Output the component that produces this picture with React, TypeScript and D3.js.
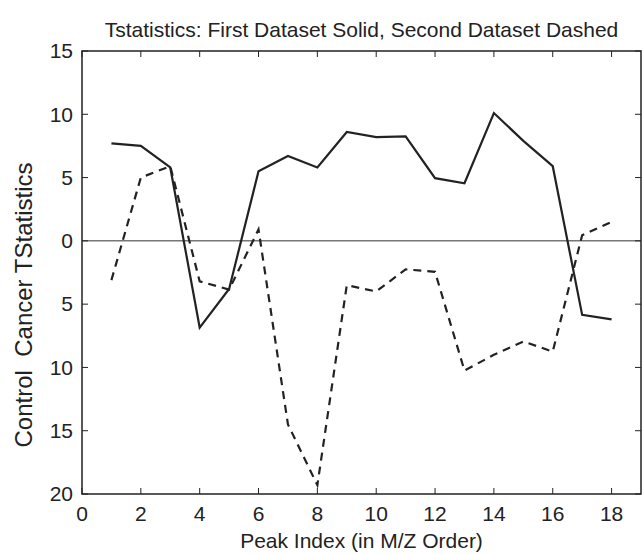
import React from "react";
import * as d3 from "d3";

// peak index 1..18
const peaks = [1, 2, 3, 4, 5, 6, 7, 8, 9, 10, 11, 12, 13, 14, 15, 16, 17, 18];
const firstDataset = [7.7, 7.5, 5.8, -6.85, -3.8, 5.5, 6.7, 5.8, 8.6, 8.2, 8.25, 4.95, 4.55, 10.1, 7.9, 5.9, -5.85, -6.2];
const secondDataset = [-3.1, 5.0, 5.9, -3.2, -3.85, 0.9, -14.5, -19.3, -3.5, -4.0, -2.25, -2.45, -10.25, -9.0, -7.95, -8.75, 0.45, 1.5];

const xTicks = [0, 2, 4, 6, 8, 10, 12, 14, 16, 18];
const yTicks = [-20, -15, -10, -5, 0, 5, 10, 15];
const yTickLabels = ["20", "15", "10", "5", "0", "5", "10", "15"];

export default function App() {
  const width = 642;
  const height = 554;
  const margin = { top: 51, right: 1, bottom: 60, left: 82 };
  const font = "Liberation Sans, Arial, Helvetica, sans-serif";
  const ink = "#222";
  const fs = 21;

  const x = d3.scaleLinear().domain([0, 19]).range([margin.left, width - margin.right]);
  const y = d3.scaleLinear().domain([-20, 15]).range([height - margin.bottom, margin.top]);

  const line = d3
    .line<number>()
    .x((d, i) => x(peaks[i]))
    .y((d) => y(d));

  const x0 = x(0), x1 = x(19), yTop = y(15), yBot = y(-20);
  const tl = 6;

  return (
    <svg width={width} height={height} style={{ position: "absolute", left: 0, top: 0, background: "#fff" }} fontFamily={font}>
      <text x={(x0 + x1) / 2} y={37} textAnchor="middle" fontSize={fs} fill={ink}>
        Tstatistics: First Dataset Solid, Second Dataset Dashed
      </text>

      {/* zero line */}
      <line x1={x0} x2={x1} y1={y(0)} y2={y(0)} stroke="#777" strokeWidth={1.5} />

      {/* data */}
      <path d={line(firstDataset) ?? ""} fill="none" stroke={ink} strokeWidth={2.2} />
      <path d={line(secondDataset) ?? ""} fill="none" stroke={ink} strokeWidth={2.2} strokeDasharray="8,6" />

      {/* box */}
      <rect x={x0} y={yTop} width={x1 - x0} height={yBot - yTop} fill="none" stroke={ink} strokeWidth={1.5} />

      {/* x ticks */}
      {xTicks.map((t) => (
        <g key={"x" + t}>
          <line x1={x(t)} x2={x(t)} y1={yBot} y2={yBot - tl} stroke={ink} strokeWidth={1} />
          <line x1={x(t)} x2={x(t)} y1={yTop} y2={yTop + tl} stroke={ink} strokeWidth={1} />
          <text x={x(t)} y={yBot + 27} textAnchor="middle" fontSize={fs} fill={ink}>
            {t}
          </text>
        </g>
      ))}

      {/* y ticks */}
      {yTicks.map((t, i) => (
        <g key={"y" + t}>
          <line x1={x0} x2={x0 + tl} y1={y(t)} y2={y(t)} stroke={ink} strokeWidth={1} />
          <line x1={x1} x2={x1 - tl} y1={y(t)} y2={y(t)} stroke={ink} strokeWidth={1} />
          <text x={x0 - 9} y={y(t)} dy="0.35em" textAnchor="end" fontSize={fs} fill={ink}>
            {yTickLabels[i]}
          </text>
        </g>
      ))}

      <text x={(x0 + x1) / 2} y={548} textAnchor="middle" fontSize={fs} fill={ink}>
        Peak Index (in M/Z Order)
      </text>
      <text
        transform={`translate(32, 305) rotate(-90)`}
        textAnchor="middle"
        fontSize={24}
        fill={ink}
        style={{ whiteSpace: "pre" }}
      >
        Control  Cancer TStatistics
      </text>
    </svg>
  );
}
